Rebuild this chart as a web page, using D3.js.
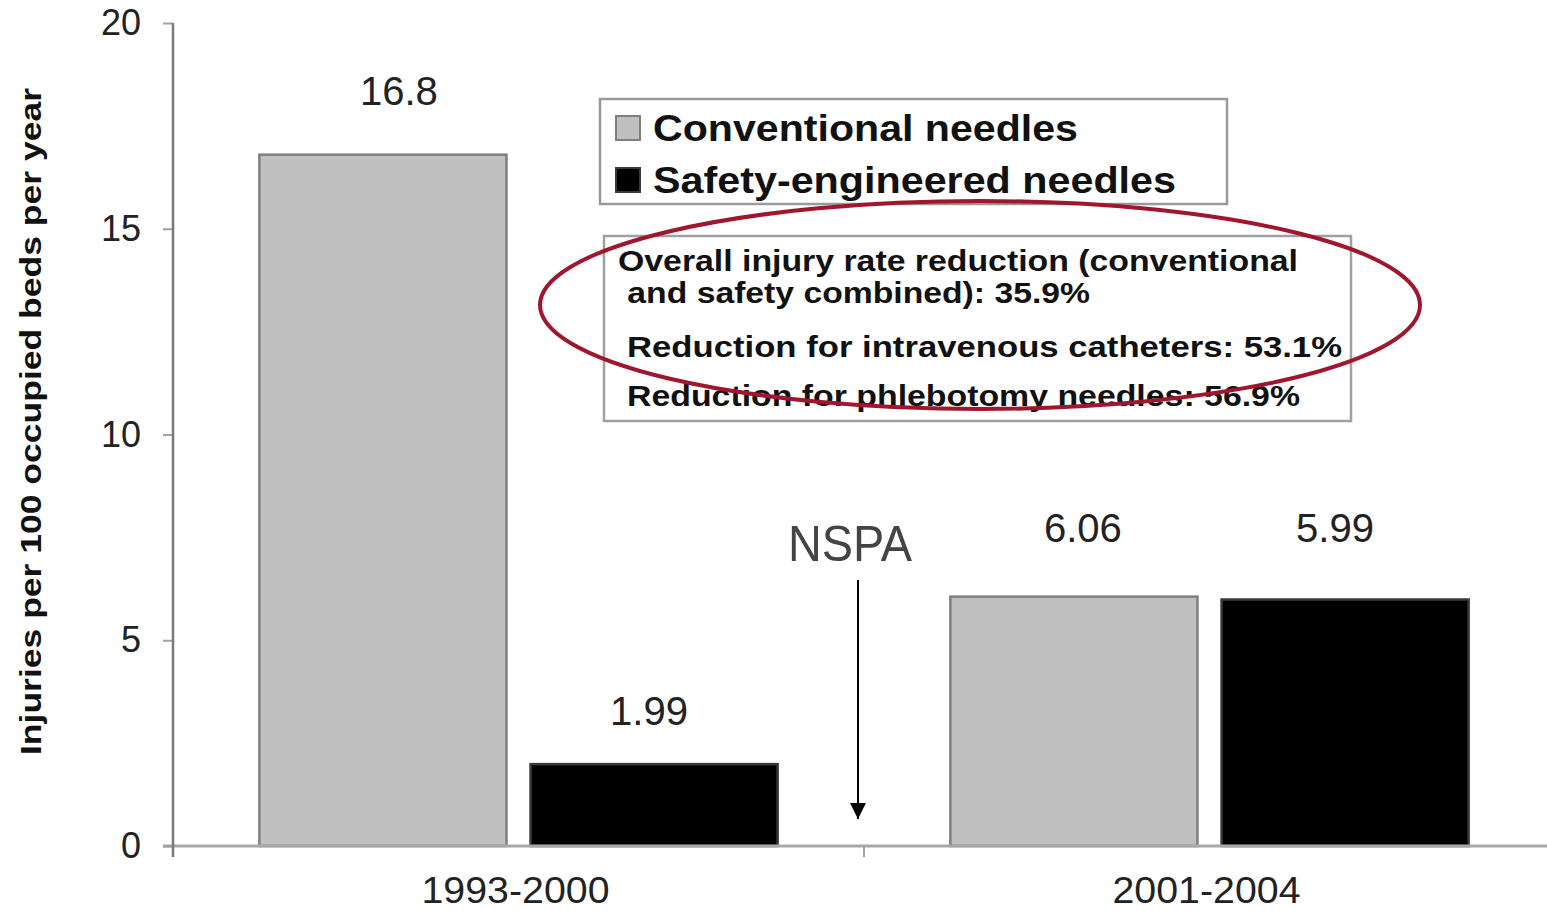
<!DOCTYPE html>
<html>
<head>
<meta charset="utf-8">
<script src="https://cdn.jsdelivr.net/npm/d3@7"></script>
<style>
  html, body { margin: 0; padding: 0; background: #fff; }
  svg { display: block; font-family: "Liberation Sans", Arial, sans-serif; }
</style>
</head>
<body>
<svg id="chart" width="1547" height="911"></svg>
<script>
// Needlestick injury rates before and after the Needlestick Safety and Prevention Act
const categories = ["1993-2000", "2001-2004"];
const seriesNames = ["Conventional needles", "Safety-engineered needles"];
const conventional = [16.8, 6.06];
const safety = [1.99, 5.99];
const yTicks = [0, 5, 10, 15, 20];
const valueLabels = [["16.8", "6.06"], ["1.99", "5.99"]];
const notes = [
  "Overall injury rate reduction (conventional",
  " and safety combined): 35.9%",
  "Reduction for intravenous catheters: 53.1%",
  "Reduction for phlebotomy needles: 56.9%"
];
const yTitle = "Injuries per 100 occupied beds per year";
const eventLabel = "NSPA";

const seriesValues = [conventional, safety];
const fills = ["#c0c0c0", "#000000"];
const strokes = ["#7f7f7f", "#3a3a3a"];

const svg = d3.select("#chart");

const x0 = d3.scaleBand().domain(categories).range([173, 1555]).paddingInner(0).paddingOuter(0);
const x1 = d3.scaleBand().domain(d3.range(seriesNames.length))
  .range([0, x0.bandwidth()]).paddingInner(0.0889).paddingOuter(0.3185);
const y = d3.scaleLinear().domain([0, 20]).range([846, 23]);

// Bars
const rows = [];
categories.forEach((c, ci) => seriesValues.forEach((vals, si) => rows.push({ c, ci, si, v: vals[ci], label: valueLabels[si][ci] })));

svg.append("g").selectAll("rect").data(rows).join("rect")
  .attr("x", d => x0(d.c) + x1(d.si))
  .attr("y", d => y(d.v))
  .attr("width", x1.bandwidth())
  .attr("height", d => y(0) - y(d.v))
  .attr("fill", d => fills[d.si])
  .attr("stroke", d => strokes[d.si])
  .attr("stroke-width", 2.5);

// Value labels above bars (small per-label nudges, as laid out in the original slide)
const labelDx = [[16, 9], [-5, -10]];
const labelDy = [[-50, -55], [-39, -58]];
svg.append("g").selectAll("text").data(rows).join("text")
  .attr("x", d => x0(d.c) + x1(d.si) + x1.bandwidth() / 2 + labelDx[d.si][d.ci])
  .attr("y", d => y(d.v) + labelDy[d.si][d.ci])
  .attr("text-anchor", "middle")
  .attr("font-size", 40)
  .attr("fill", "#222")
  .attr("textLength", 78)
  .attr("lengthAdjust", "spacingAndGlyphs")
  .text(d => d.label);

// X axis baseline and tick marks
const xAxis = svg.append("g");
xAxis.append("line")
  .attr("x1", 163).attr("x2", 1547)
  .attr("y1", y(0)).attr("y2", y(0))
  .attr("stroke", "#a8a8a8").attr("stroke-width", 3);
xAxis.selectAll("line.tk").data([173, x0(categories[1])]).join("line")
  .attr("class", "tk")
  .attr("x1", d => d).attr("x2", d => d)
  .attr("y1", y(0)).attr("y2", y(0) + 11)
  .attr("stroke", "#a0a0a0").attr("stroke-width", 2);
xAxis.selectAll("text").data(categories).join("text")
  .attr("x", d => x0(d) + x0.bandwidth() / 2 - 3)
  .attr("y", 903)
  .attr("text-anchor", "middle")
  .attr("font-size", 36)
  .attr("fill", "#222")
  .attr("textLength", 188)
  .attr("lengthAdjust", "spacingAndGlyphs")
  .text(d => d);

// Y axis
const yAxis = d3.axisLeft(y).tickValues(yTicks).tickSize(10).tickPadding(22).tickFormat(d3.format("d"));
const gy = svg.append("g").attr("transform", "translate(173,0)").call(yAxis);
gy.select(".domain").remove();
gy.append("line").attr("x1", 0).attr("x2", 0).attr("y1", y(20)).attr("y2", y(0) + 11)
  .attr("stroke", "#7a7a7a").attr("stroke-width", 2.5);
gy.selectAll(".tick line").attr("stroke", "#a0a0a0").attr("stroke-width", 2);
gy.selectAll(".tick text")
  .attr("font-size", 36)
  .attr("fill", "#222")
  .attr("font-family", "Liberation Sans, Arial, sans-serif");

// Y axis title
svg.append("text")
  .attr("transform", `translate(41,${(y(0) + y(20)) / 2 - 13}) rotate(-90)`)
  .attr("text-anchor", "middle")
  .attr("font-size", 30)
  .attr("font-weight", "bold")
  .attr("fill", "#111")
  .attr("textLength", 667)
  .attr("lengthAdjust", "spacingAndGlyphs")
  .text(yTitle);

// Legend
const legend = svg.append("g");
legend.append("rect").attr("x", 600).attr("y", 99).attr("width", 627).attr("height", 105)
  .attr("fill", "#fff").attr("stroke", "#9a9a9a").attr("stroke-width", 2.5);
const legendTextLen = [425, 523];
seriesNames.forEach((name, i) => {
  const ly = 116 + i * 52;
  legend.append("rect").attr("x", 616).attr("y", ly).attr("width", 24).attr("height", 24)
    .attr("fill", fills[i]).attr("stroke", strokes[i]).attr("stroke-width", 2);
  legend.append("text")
    .attr("x", 653).attr("y", ly + 25)
    .attr("font-size", 37).attr("font-weight", "bold").attr("fill", "#111")
    .attr("textLength", legendTextLen[i])
    .attr("lengthAdjust", "spacingAndGlyphs")
    .text(name);
});

// Notes box
const noteBox = svg.append("g");
noteBox.append("rect").attr("x", 604).attr("y", 236).attr("width", 747).attr("height", 185)
  .attr("fill", "#fff").attr("stroke", "#a0a0a0").attr("stroke-width", 2.5);
const noteX = [618, 618, 627, 627];
const noteY = [271, 303, 357, 406];
const noteLen = [680, 472, 715, 673];
noteBox.selectAll("text").data(notes).join("text")
  .attr("x", (d, i) => noteX[i])
  .attr("y", (d, i) => noteY[i])
  .attr("font-size", 29).attr("font-weight", "bold").attr("fill", "#111")
  .attr("xml:space", "preserve")
  .style("white-space", "pre")
  .attr("textLength", (d, i) => noteLen[i])
  .attr("lengthAdjust", "spacingAndGlyphs")
  .text(d => d);

// Highlight ellipse
svg.append("ellipse")
  .attr("cx", 980).attr("cy", 305).attr("rx", 440).attr("ry", 104)
  .attr("fill", "none").attr("stroke", "#a0162e").attr("stroke-width", 4);

// NSPA marker
svg.append("text")
  .attr("x", 850).attr("y", 561)
  .attr("text-anchor", "middle")
  .attr("font-size", 50).attr("fill", "#444")
  .attr("textLength", 124).attr("lengthAdjust", "spacingAndGlyphs")
  .text(eventLabel);
svg.append("defs").append("marker")
  .attr("id", "arrowhead").attr("viewBox", "0 0 10 10")
  .attr("refX", 10).attr("refY", 5)
  .attr("markerWidth", 16).attr("markerHeight", 16)
  .attr("markerUnits", "userSpaceOnUse")
  .attr("orient", "auto")
  .append("path").attr("d", "M0,0 L10,5 L0,10 Z").attr("fill", "#000");
svg.append("line")
  .attr("x1", 858).attr("x2", 858).attr("y1", 580).attr("y2", 819)
  .attr("stroke", "#000").attr("stroke-width", 2)
  .attr("marker-end", "url(#arrowhead)");
</script>
</body>
</html>
